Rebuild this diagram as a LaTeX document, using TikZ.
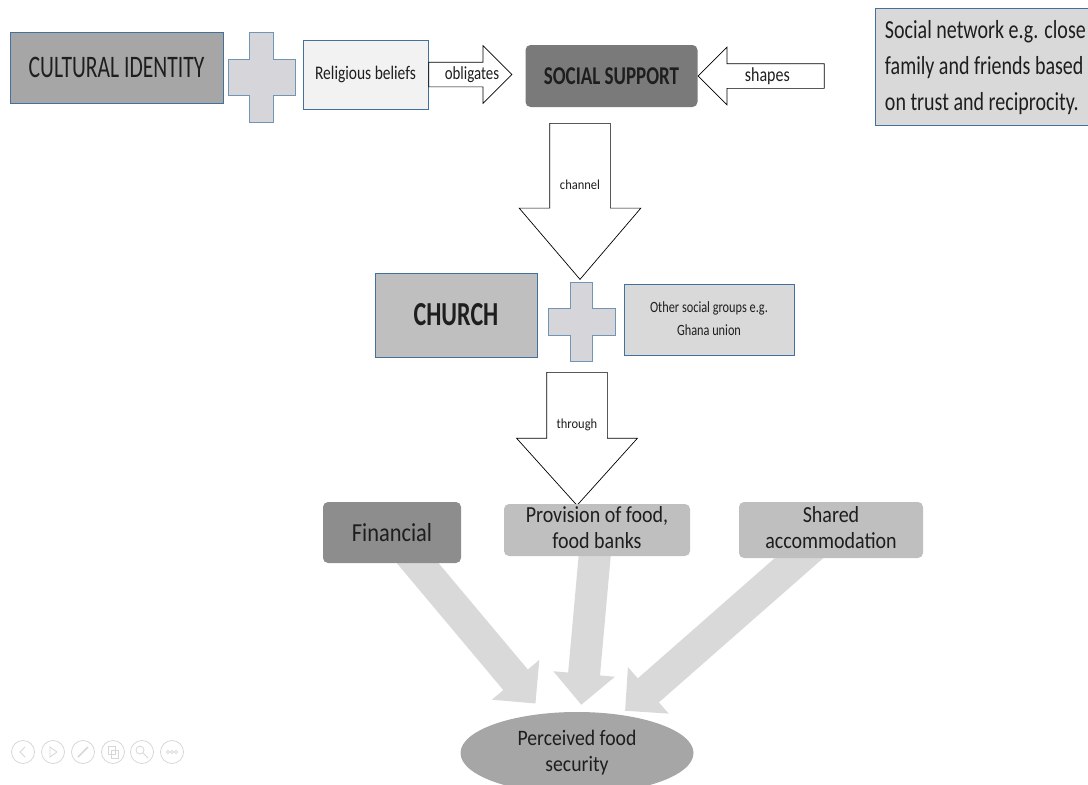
\documentclass[tikz,border=0pt]{standalone}
\usepackage{fontspec}
\setmainfont{Carlito}
\usepackage{graphicx}
\usetikzlibrary{shapes.geometric,shapes.arrows,arrows.meta,backgrounds}

\definecolor{edgeblue}{RGB}{65,113,156}
\definecolor{txtgray}{RGB}{30,30,30}
\definecolor{cigray}{RGB}{166,166,166}
\definecolor{relgray}{RGB}{242,242,242}
\definecolor{ssgray}{RGB}{122,122,122}
\definecolor{netgray}{RGB}{217,217,217}
\definecolor{churchgray}{RGB}{191,191,191}
\definecolor{fingray}{RGB}{141,141,141}
\definecolor{provgray}{RGB}{191,191,191}
\definecolor{pergray}{RGB}{166,166,166}
\definecolor{fatgray}{RGB}{217,217,217}
\definecolor{plusgray}{RGB}{213,213,218}
\definecolor{icongray}{RGB}{215,215,215}

% text of the slide is stretched upwards
\newcommand{\st}[2][1.3]{\scalebox{1}[#1]{#2}}

\begin{document}
\begin{tikzpicture}[x=1pt,y=-1pt,
  box/.style={draw=edgeblue,line width=0.8pt,inner sep=0pt,text=txtgray},
  smart/.style={rounded corners=5pt,inner sep=0pt,text=txtgray},
  blockarrow/.style={single arrow,draw=black,line width=0.7pt,fill=white,inner sep=0pt,text=txtgray},
  fat/.style={draw=fatgray,line width=32pt,-{Triangle[length=31pt,width=60pt]}},
  plusbox/.style={draw=edgeblue!75,line width=0.8pt,fill=plusgray}]

\useasboundingbox (0,0) rectangle (1088,785);

% top row
\node[box,fill=cigray,minimum width=213,minimum height=71,font=\fontsize{21.6}{26}\selectfont] (ci) at (116.5,67.5) {\st[1.45]{CULTURAL IDENTITY}};
\draw[plusbox] (228,59) -- (249,59) -- (249,32) -- (273,32) -- (273,59) -- (295,59) -- (295,95) -- (273,95) -- (273,122) -- (249,122) -- (249,95) -- (228,95) -- cycle;
\node[box,fill=relgray,minimum width=125,minimum height=69,font=\fontsize{15.5}{18}\selectfont] (rel) at (365.5,74.5) {\st[1.24]{Religious beliefs}};
\node[blockarrow,anchor=tail,text width=70,align=right,text height=17,text depth=7,
  single arrow head extend=16.5,font=\fontsize{14.9}{18}\selectfont] (obl) at (rel.east) {\st[1.24]{obligates}};
\node[smart,fill=ssgray,minimum width=172,minimum height=62,font=\bfseries\fontsize{19}{22}\selectfont] (ss) at (611.5,76) {\st[1.35]{SOCIAL SUPPORT}};
\node[blockarrow,shape border rotate=180,anchor=tip,text width=113,align=center,text height=17,text depth=7,
  single arrow head extend=16.5,font=\fontsize{16}{19}\selectfont] (shp) at (ss.east) {\st[1.24]{shapes}};
\node[box,fill=netgray,anchor=north west,minimum width=220,minimum height=117,font=\fontsize{20}{27.7}\selectfont] (net) at (875,8)
  {\st[1.3]{\begin{tabular}{@{}l@{}}Social network e.g. close\\family and friends based\\on trust and reciprocity.\end{tabular}}};

% middle
\node[blockarrow,shape border rotate=270,anchor=tail,text width=60,align=center,text height=66,text depth=19,minimum height=156,
  single arrow head extend=30.5,single arrow tip angle=81,font=\fontsize{12.5}{15}\selectfont] (ch) at (580,123) {\raisebox{18pt}{\st[1.1]{channel}}};
\node[box,fill=churchgray,minimum width=162,minimum height=84,font=\bfseries\fontsize{24}{28}\selectfont] (church) at (456,315) {\st[1.4]{CHURCH}};
\draw[plusbox] (548,308) -- (570,308) -- (570,282) -- (592,282) -- (592,308) -- (615,308) -- (615,335) -- (592,335) -- (592,361) -- (570,361) -- (570,335) -- (548,335) -- cycle;
\node[box,fill=netgray,minimum width=170,minimum height=71,font=\fontsize{12.3}{17.7}\selectfont] (oth) at (709,319.5)
  {\st[1.27]{\begin{tabular}{@{}c@{}}Other social groups e.g.\\Ghana union\end{tabular}}};
\node[blockarrow,shape border rotate=270,anchor=tail,text width=60,align=center,text height=56,text depth=10,minimum height=133,
  single arrow head extend=30,single arrow tip angle=84,font=\fontsize{12.5}{15}\selectfont] (thr) at (577,372) {\raisebox{17pt}{\st[1.1]{through}}};

% bottom
\node[smart,fill=fingray,minimum width=138,minimum height=61,font=\fontsize{22.4}{26}\selectfont] (fin) at (392,532.5) {\st[1.16]{Financial}};
\node[smart,fill=provgray,minimum width=186,minimum height=52,font=\fontsize{20}{22.6}\selectfont] (prov) at (597,530)
  {\st[1.15]{\begin{tabular}{@{}c@{}}Provision of food,\\food banks\end{tabular}}};
\node[smart,fill=provgray,minimum width=184,minimum height=56,font=\fontsize{20}{22.6}\selectfont] (shr) at (831,530)
  {\st[1.15]{\begin{tabular}{@{}c@{}}Shared\\accommodation\end{tabular}}};
\node[ellipse,fill=pergray,inner sep=0pt,minimum width=233,minimum height=82,text=txtgray,font=\fontsize{19.7}{23.5}\selectfont] (per) at (577,753)
  {\st[1.12]{\begin{tabular}{@{}c@{}}Perceived food\\security\end{tabular}}};

\begin{scope}[on background layer]
\draw[fat,shorten >=13pt] (fin.center) -- (per);
\draw[fat,shorten >=7pt] (prov.center) -- (per);
\draw[fat,shorten >=6pt] (shr.center) -- (per);
\end{scope}

% slide show controls
\foreach \x in {23,53,83,113,142,172}
  \draw[icongray,line width=0.8pt] (\x,752) circle (11.5);
\draw[icongray,line width=0.8pt] (25,747) -- (20,752) -- (25,757);
\draw[icongray,line width=0.8pt] (50,747) -- (57,752) -- (50,757) -- cycle;
\draw[icongray,line width=1.5pt] (78,757) -- (88,747);
\draw[icongray,line width=0.8pt] (108,746) rectangle (115,754) (111,750) rectangle (118,758);
\draw[icongray,line width=0.8pt] (140,750) circle (4) (143,753) -- (148,758);
\foreach \d in {-4,0,4}
  \draw[icongray,line width=0.8pt] (172+\d,752) circle (1.6);
\end{tikzpicture}
\end{document}
